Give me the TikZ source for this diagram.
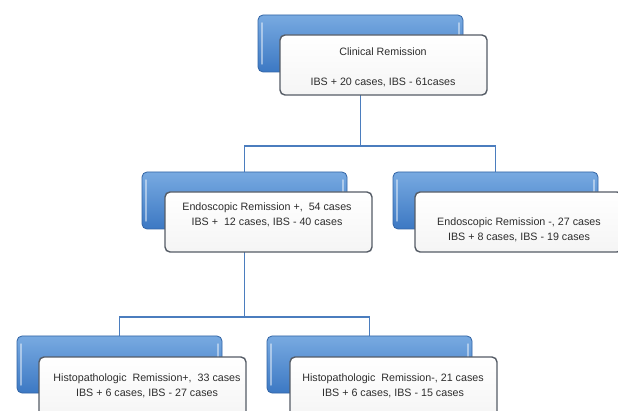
\documentclass[tikz,border=0pt]{standalone}
\usepackage{fontspec}
\setmainfont{Liberation Sans}
\usetikzlibrary{calc}
\pgfdeclarelayer{bg}\pgfsetlayers{bg,main}
\definecolor{bluetop}{RGB}{120,170,225}
\definecolor{bluebot}{RGB}{60,120,195}
\definecolor{blueedge}{RGB}{50,100,165}
\definecolor{conncol}{RGB}{75,125,190}
\definecolor{whiteedge}{RGB}{85,92,102}
\definecolor{txt}{RGB}{45,45,45}
\tikzset{
 bluebox/.style={draw=blueedge, line width=0.8pt, rounded corners=5pt, top color=bluetop, bottom color=bluebot, minimum width=205pt, minimum height=57pt, inner sep=0pt, outer sep=0pt, anchor=north west},
 whitebox/.style={draw=whiteedge, line width=1.4pt, rounded corners=5pt, top color=white, bottom color=gray!8, minimum width=207pt, minimum height=60pt, inner sep=0pt, outer sep=0pt, anchor=north west},
 conn/.style={draw=conncol, line width=1.2pt},
 lbl/.style={text=txt, font=\fontsize{10.7}{15}\selectfont, align=center, inner sep=0pt},
 gloss/.style={draw=white, opacity=0.45, line width=1.5pt, line cap=round}
}
\begin{document}
\begin{tikzpicture}[x=1pt,y=-1pt]
\useasboundingbox (0,0) rectangle (618,411);
\clip (0,0) rectangle (618,411);
% top
\node[bluebox] (topB) at (258,15) {};
\draw[gloss] ([xshift=4pt,yshift=-8pt]topB.north west) -- ([xshift=4pt,yshift=8pt]topB.south west);
\draw[gloss] ([xshift=-4pt,yshift=-8pt]topB.north east) -- ([xshift=-4pt,yshift=8pt]topB.south east);
\node[whitebox] (topW) at (280,35) {};
\node[lbl] (topT1) at (383,52) {Clinical Remission};
\node[lbl] (topT2) at (383,82) {IBS + 20 cases, IBS - 61cases};
% middle left
\node[bluebox] (mLB) at (142,172) {};
\draw[gloss] ([xshift=4pt,yshift=-8pt]mLB.north west) -- ([xshift=4pt,yshift=8pt]mLB.south west);
\draw[gloss] ([xshift=-4pt,yshift=-8pt]mLB.north east) -- ([xshift=-4pt,yshift=8pt]mLB.south east);
\node[whitebox] (mLW) at (165,192) {};
\node[lbl] (mLT) at (267,215) {Endoscopic Remission +,\ \ 54 cases\\IBS +\ \ 12 cases, IBS - 40 cases};
% middle right
\node[bluebox] (mRB) at (393,172) {};
\draw[gloss] ([xshift=4pt,yshift=-8pt]mRB.north west) -- ([xshift=4pt,yshift=8pt]mRB.south west);
\draw[gloss] ([xshift=-4pt,yshift=-8pt]mRB.north east) -- ([xshift=-4pt,yshift=8pt]mRB.south east);
\node[whitebox] (mRW) at (415,192) {};
\node[lbl] (mRT) at (519,230) {Endoscopic Remission -, 27 cases\\IBS + 8 cases, IBS - 19 cases};
% bottom left
\node[bluebox] (bLB) at (17,336) {};
\draw[gloss] ([xshift=4pt,yshift=-8pt]bLB.north west) -- ([xshift=4pt,yshift=8pt]bLB.south west);
\draw[gloss] ([xshift=-4pt,yshift=-8pt]bLB.north east) -- ([xshift=-4pt,yshift=8pt]bLB.south east);
\node[whitebox] (bLW) at (39,357) {};
\node[lbl] (bLT) at (147,386) {Histopathologic\ \ Remission+,\ \ 33 cases\\IBS + 6 cases, IBS - 27 cases};
% bottom right
\node[bluebox] (bRB) at (267,336) {};
\draw[gloss] ([xshift=4pt,yshift=-8pt]bRB.north west) -- ([xshift=4pt,yshift=8pt]bRB.south west);
\draw[gloss] ([xshift=-4pt,yshift=-8pt]bRB.north east) -- ([xshift=-4pt,yshift=8pt]bRB.south east);
\node[whitebox] (bRW) at (290,357) {};
\node[lbl] (bRT) at (393,386) {Histopathologic\ \ Remission-, 21 cases\\IBS + 6 cases, IBS - 15 cases};
% connectors
\coordinate (j1) at (360,146);
\coordinate (j2) at (245,317);
\begin{pgfonlayer}{bg}
\fill[white] (0,0) rectangle (618,411);
\draw[conn] (topB.center) -- (topB.center |- j1) -| (mLB.north);
\draw[conn] (topB.center |- j1) -| (mRB.north);
\draw[conn] (mLB.center) -- (mLB.center |- j2) -| (bLB.north);
\draw[conn] (mLB.center |- j2) -| (bRB.north);
\end{pgfonlayer}
\end{tikzpicture}
\end{document}
